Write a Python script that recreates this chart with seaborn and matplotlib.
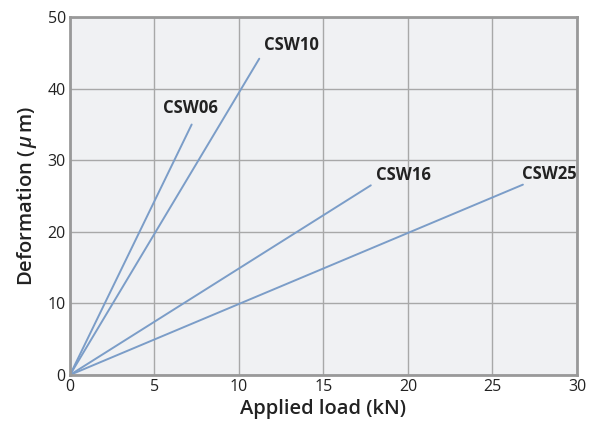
import numpy as np
import pandas as pd
import matplotlib
matplotlib.use("Agg")
import matplotlib.pyplot as plt
import seaborn as sns

# Data: each series is a straight line from the origin
series = ["CSW06", "CSW10", "CSW16", "CSW25"]
load_end = [7.2, 11.2, 17.8, 26.8]
deform_end = [35.0, 44.2, 26.5, 26.6]
x_ticks = [0, 5, 10, 15, 20, 25, 30]
y_ticks = [0, 10, 20, 30, 40, 50]

rows = []
for name, xe, ye in zip(series, load_end, deform_end):
    rows.append({"series": name, "load": 0.0, "deform": 0.0})
    rows.append({"series": name, "load": xe, "deform": ye})
df = pd.DataFrame(rows)

sns.set_style("white")
plt.rcParams["font.family"] = ["Open Sans", "DejaVu Sans"]
plt.rcParams["mathtext.fontset"] = "custom"
plt.rcParams["mathtext.it"] = "Open Sans:italic:semibold"
plt.rcParams["mathtext.rm"] = "Open Sans:semibold"

fig = plt.figure(figsize=(5.93, 4.30), dpi=100)
ax = fig.add_axes([0.118, 0.128, 0.855, 0.832])
ax.set_facecolor("#f0f1f3")

line_color = "#7b9dc8"
sns.lineplot(data=df, x="load", y="deform", units="series", estimator=None,
             color=line_color, linewidth=1.4, ax=ax, legend=False)

# labels next to line ends
label_offsets = {"CSW06": (-1.7, 2.3), "CSW10": (0.3, 1.9), "CSW16": (0.3, 1.4), "CSW25": (-0.05, 1.5)}
for name, xe, ye in zip(series, load_end, deform_end):
    dx, dy = label_offsets[name]
    ax.text(xe + dx, ye + dy, name, fontsize=12, fontweight="bold",
            color="#222222", ha="left", va="center")

ax.set_xlim(0, 30)
ax.set_ylim(0, 50)
ax.set_xticks(x_ticks)
ax.set_yticks(y_ticks)
ax.grid(True, color="#a8a8a8", linewidth=1.0)
ax.set_axisbelow(True)
for sp in ax.spines.values():
    sp.set_color("#999999")
    sp.set_linewidth(2)
ax.tick_params(axis="both", length=0, labelsize=11.5, colors="#222222", pad=3)

lab_font = dict(fontweight="semibold", fontsize=14.5, color="#222222")
ax.set_xlabel("Applied load (kN)", labelpad=3, **lab_font)
ax.set_ylabel("Deformation ($\\,\\mu\\,$m)", labelpad=6, **lab_font)

fig.savefig("out.png", dpi=100)
